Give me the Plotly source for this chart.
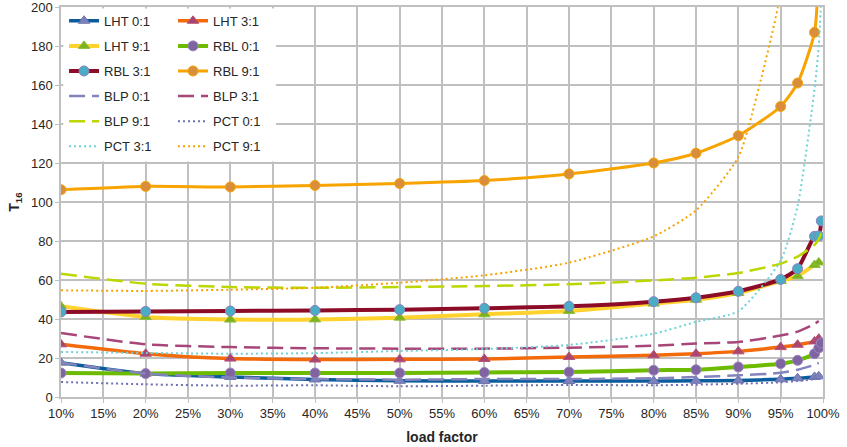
import plotly.graph_objects as go

# x positions (load factor, %)
X14 = [10, 20, 30, 40, 50, 60, 70, 80, 85, 90, 95, 97, 99, 99.5]
X15 = [10, 20, 30, 40, 50, 60, 70, 80, 85, 90, 95, 97, 99, 99.5, 99.8]
X_PCT3 = [10, 20, 30, 40, 50, 60, 70, 80, 85, 90, 95, 97, 99, 99.5, 99.8]
X_PCT9 = [10, 20, 30, 40, 50, 60, 70, 80, 85, 90, 92.5, 95, 97]

LHT_01 = [17.6, 12.0, 10.3, 9.0, 8.3, 8.2, 8.2, 8.2, 8.3, 8.5, 9.1, 9.6, 10.3, 10.6]
LHT_31 = [27.0, 22.2, 19.7, 19.2, 19.3, 19.5, 20.5, 21.4, 22.2, 23.4, 25.6, 26.8, 28.5, 29.9]
LHT_91 = [46.5, 41.0, 39.7, 39.8, 40.7, 42.4, 44.1, 47.9, 49.9, 53.3, 59.5, 62.0, 67.7, 69.0]
RBL_01 = [12.3, 12.0, 12.3, 12.3, 12.3, 12.6, 12.8, 13.7, 14.0, 15.4, 17.1, 18.8, 22.2, 25.1, 27.7]
RBL_31 = [43.6, 43.9, 44.1, 44.4, 44.8, 45.5, 46.5, 48.9, 50.9, 54.2, 60.3, 65.8, 82.4, 82.6, 90.3]
RBL_91 = [106.3, 108.0, 107.7, 108.5, 109.5, 111.0, 114.4, 120.0, 125.0, 134.0, 149.0, 161.0, 187.0, 220.0, 300.0]
BLP_01 = [17.6, 12.0, 10.0, 9.2, 8.9, 9.2, 9.2, 9.6, 10.2, 11.1, 12.4, 14.0, 16.5, 17.5]
BLP_31 = [32.8, 27.0, 25.6, 25.0, 24.8, 24.8, 25.3, 26.3, 27.4, 28.2, 31.5, 33.5, 37.5, 39.0]
BLP_91 = [63.2, 58.1, 56.4, 56.0, 56.4, 56.9, 57.8, 59.8, 61.2, 63.6, 68.4, 72.0, 78.0, 81.0, 84.0]
PCT_01 = [7.7, 6.5, 5.8, 6.0, 5.5, 5.8, 6.2, 6.0, 6.3, 6.8, 7.5, 8.2, 9.2, 10.0]
PCT_31 = [23.1, 22.6, 22.2, 22.5, 23.6, 24.6, 26.7, 32.5, 38.5, 44.0, 70.0, 98.0, 158.0, 180.0, 205.0]
PCT_91 = [54.7, 54.4, 55.0, 56.0, 58.6, 62.4, 68.9, 82.4, 95.7, 123.0, 160.0, 208.0, 330.0]

X_TICKS = [10, 15, 20, 25, 30, 35, 40, 45, 50, 55, 60, 65, 70, 75, 80, 85, 90, 95, 100]

fig = go.Figure()

def solid(name, x, y, lc, mfill, mline, sym, leg, lw=3.5, ms=10):
    fig.add_trace(go.Scatter(
        x=x, y=y, name=name, mode="lines+markers", legend=leg, legendgroup=name,
        line=dict(color=lc, width=lw, shape="spline", smoothing=0.6),
        marker=dict(symbol=sym, size=ms, color=mfill, line=dict(color=mline, width=1)),
    ))

def styled(name, x, y, lc, dash, lw, leg):
    fig.add_trace(go.Scatter(
        x=x, y=y, name=name, mode="lines", legend=leg, legendgroup=name,
        line=dict(color=lc, width=lw, dash=dash, shape="spline", smoothing=0.6),
    ))

DASH = "16px,7px"
DOT = "2px,3px"
solid("LHT 0:1", X14, LHT_01, "#0A5C9C", "#7C82BC", "#6E74B0", "triangle-up", "legend", lw=3.5)
solid("LHT 3:1", X14, LHT_31, "#F26A0A", "#A8466E", "#B8507A", "triangle-up", "legend2", lw=3.5)
solid("LHT 9:1", X14, LHT_91, "#FFD22E", "#7DB21E", "#8FBF3A", "triangle-up", "legend", lw=4)
solid("RBL 0:1", X15, RBL_01, "#6DBB00", "#8064A2", "#9A86BE", "circle", "legend2", lw=4)
solid("RBL 3:1", X15, RBL_31, "#8C0B26", "#4BACC6", "#8A80BE", "circle", "legend", lw=4)
solid("RBL 9:1", X15, RBL_91, "#F7A300", "#D98E3C", "#F7A300", "circle", "legend2", lw=3)
styled("BLP 0:1", X14, BLP_01, "#8484BC", DASH, 2.5, "legend")
styled("BLP 3:1", X14, BLP_31, "#A8467A", DASH, 2.5, "legend2")
styled("BLP 9:1", X15, BLP_91, "#BCD600", DASH, 2.5, "legend")
styled("PCT 0:1", X14, PCT_01, "#7070B4", DOT, 2, "legend2")
styled("PCT 3:1", X_PCT3, PCT_31, "#70D2D6", DOT, 2, "legend")
styled("PCT 9:1", X_PCT9, PCT_91, "#F7A300", DOT, 2, "legend2")

grid = "#C0C0C0"
legfont = dict(size=13, color="#262626")
fig.update_layout(
    width=847, height=447,
    margin=dict(l=61, r=24, t=7, b=50, autoexpand=False),
    paper_bgcolor="white", plot_bgcolor="white",
    font=dict(family="Liberation Sans, Arial, sans-serif", size=13, color="#262626"),
    showlegend=True,
    legend=dict(x=0.004, y=1.003, xanchor="left", yanchor="top", bgcolor="rgba(0,0,0,0)",
                borderwidth=0, font=legfont, tracegroupgap=5.2),
    legend2=dict(x=0.147, y=1.003, xanchor="left", yanchor="top", bgcolor="rgba(0,0,0,0)",
                 borderwidth=0, font=legfont, tracegroupgap=5.2),
    shapes=[dict(type="rect", xref="paper", yref="paper", x0=0.003, x1=0.282, y0=0.604, y1=0.996,
                 fillcolor="white", line=dict(width=0), layer="above")],
    xaxis=dict(
        range=[10, 100], tickvals=X_TICKS, ticktext=[f"{v}%" for v in X_TICKS],
        showgrid=True, gridcolor=grid, gridwidth=1.5,
        showline=True, linecolor=grid, linewidth=1.5, mirror=True,
        ticks="outside", ticklen=4, tickcolor=grid, ticklabeloverflow="allow",
        zeroline=False, tickfont=dict(size=13),
        title=dict(text="<b>load factor</b>", standoff=12, font=dict(size=14)),
    ),
    yaxis=dict(
        range=[0, 200], dtick=20,
        showgrid=True, gridcolor=grid, gridwidth=1.5,
        showline=True, linecolor=grid, linewidth=1.5, mirror=True,
        ticks="outside", ticklen=4, tickcolor=grid, ticklabeloverflow="allow",
        zeroline=False, tickfont=dict(size=13),
        title=dict(text="<b>T<sub>16</sub></b>", standoff=8, font=dict(size=14)),
    ),
)

fig.write_html("out.html", config={"displayModeBar": False},
               post_script="document.body.style.margin='0';")
